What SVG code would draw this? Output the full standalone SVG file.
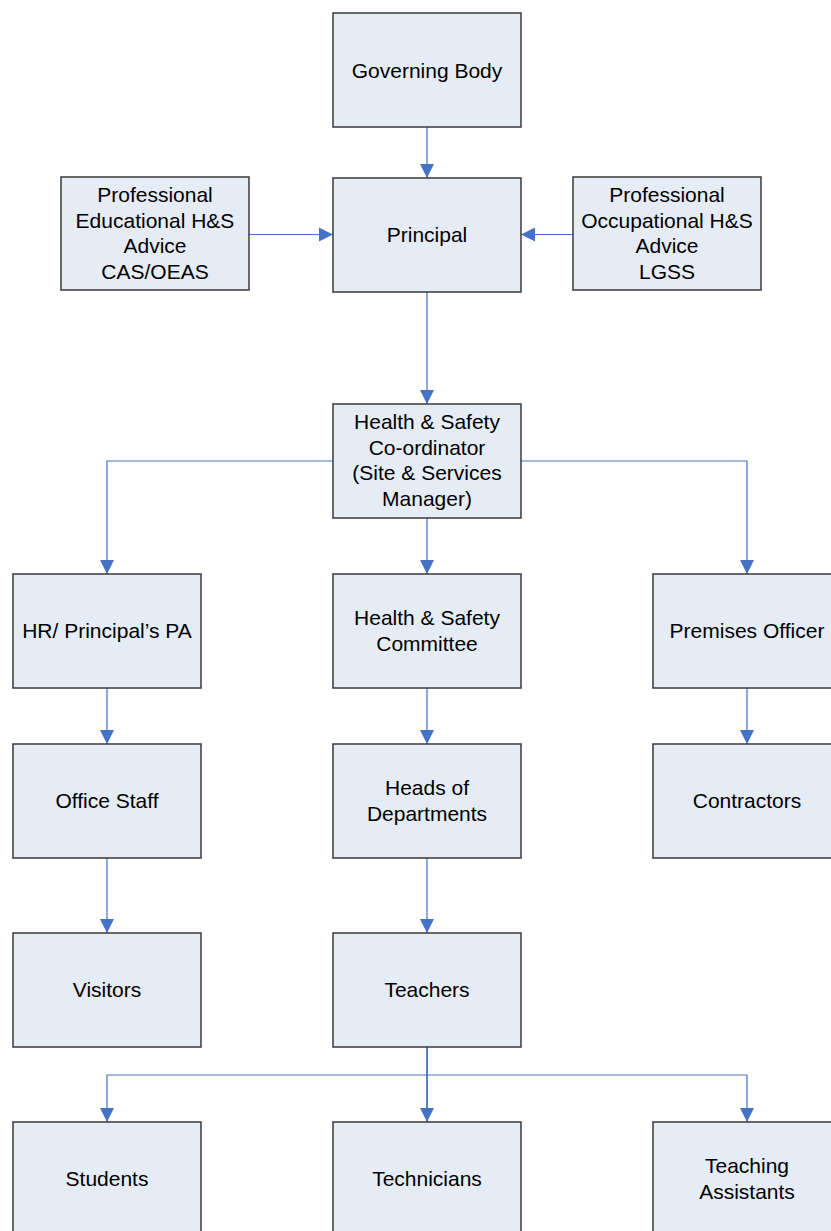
<svg xmlns="http://www.w3.org/2000/svg" width="831" height="1231" viewBox="0 0 831 1231">
<style>
.box{fill:#E6ECF6;stroke:#3a3a3a;stroke-width:1.5}
.t{font-family:"Liberation Sans",Arial,sans-serif;font-size:21px;fill:#000;text-anchor:middle}
.c{fill:none;stroke:#4472C4;stroke-width:1.2}
</style>
<defs>
<marker id="ah" markerUnits="userSpaceOnUse" markerWidth="15" markerHeight="15" viewBox="0 0 15 15" refX="14" refY="7.5" orient="auto">
<path d="M0,0.5 L14,7.5 L0,14.5 Z" fill="#4472C4"/>
</marker>
</defs>
<rect width="831" height="1231" fill="#fff"/>
<g id="connectors">
<path class="c" d="M427,127 V178" marker-end="url(#ah)"/>
<path class="c" d="M249,234.5 H333" marker-end="url(#ah)"/>
<path class="c" d="M573,234.5 H521" marker-end="url(#ah)"/>
<path class="c" d="M427,292 V404" marker-end="url(#ah)"/>
<path class="c" d="M333,461 H107 V574" marker-end="url(#ah)"/>
<path class="c" d="M427,518 V574" marker-end="url(#ah)"/>
<path class="c" d="M521,461 H747 V574" marker-end="url(#ah)"/>
<path class="c" d="M107,688 V744" marker-end="url(#ah)"/>
<path class="c" d="M427,688 V744" marker-end="url(#ah)"/>
<path class="c" d="M747,688 V744" marker-end="url(#ah)"/>
<path class="c" d="M107,858 V933" marker-end="url(#ah)"/>
<path class="c" d="M427,858 V933" marker-end="url(#ah)"/>
<path class="c" d="M427,1075 H107 V1122" marker-end="url(#ah)"/>
<path class="c" d="M427,1075 H747 V1122" marker-end="url(#ah)"/>
<path class="c" style="stroke-width:1.8" d="M427,1047 V1122" marker-end="url(#ah)"/>
</g>
<g id="governing-body"><rect class="box" x="333" y="13" width="188" height="114"/><text class="t" x="427" y="78">Governing Body</text></g>
<g id="principal"><rect class="box" x="333" y="178" width="188" height="114"/><text class="t" x="427" y="242">Principal</text></g>
<g id="educational-advice"><rect class="box" x="61" y="177" width="188" height="113"/>
<text class="t" x="155" y="202">Professional</text><text class="t" x="155" y="228">Educational H&amp;S</text><text class="t" x="155" y="253">Advice</text><text class="t" x="155" y="279">CAS/OEAS</text></g>
<g id="occupational-advice"><rect class="box" x="573" y="177" width="188" height="113"/>
<text class="t" x="667" y="202">Professional</text><text class="t" x="667" y="228">Occupational H&amp;S</text><text class="t" x="667" y="253">Advice</text><text class="t" x="667" y="279">LGSS</text></g>
<g id="coordinator"><rect class="box" x="333" y="404" width="188" height="114"/>
<text class="t" x="427" y="429">Health &amp; Safety</text><text class="t" x="427" y="455">Co-ordinator</text><text class="t" x="427" y="480">(Site &amp; Services</text><text class="t" x="427" y="506">Manager)</text></g>
<g id="hr"><rect class="box" x="13" y="574" width="188" height="114"/><text class="t" x="107" y="638">HR/ Principal’s PA</text></g>
<g id="committee"><rect class="box" x="333" y="574" width="188" height="114"/><text class="t" x="427" y="625">Health &amp; Safety</text><text class="t" x="427" y="651">Committee</text></g>
<g id="premises"><rect class="box" x="653" y="574" width="188" height="114"/><text class="t" x="747" y="638">Premises Officer</text></g>
<g id="office-staff"><rect class="box" x="13" y="744" width="188" height="114"/><text class="t" x="107" y="808">Office Staff</text></g>
<g id="heads"><rect class="box" x="333" y="744" width="188" height="114"/><text class="t" x="427" y="795">Heads of</text><text class="t" x="427" y="821">Departments</text></g>
<g id="contractors"><rect class="box" x="653" y="744" width="188" height="114"/><text class="t" x="747" y="808">Contractors</text></g>
<g id="visitors"><rect class="box" x="13" y="933" width="188" height="114"/><text class="t" x="107" y="997">Visitors</text></g>
<g id="teachers"><rect class="box" x="333" y="933" width="188" height="114"/><text class="t" x="427" y="997">Teachers</text></g>
<g id="students"><rect class="box" x="13" y="1122" width="188" height="114"/><text class="t" x="107" y="1186">Students</text></g>
<g id="technicians"><rect class="box" x="333" y="1122" width="188" height="114"/><text class="t" x="427" y="1186">Technicians</text></g>
<g id="teaching-assistants"><rect class="box" x="653" y="1122" width="188" height="114"/><text class="t" x="747" y="1173">Teaching</text><text class="t" x="747" y="1199">Assistants</text></g>
</svg>
